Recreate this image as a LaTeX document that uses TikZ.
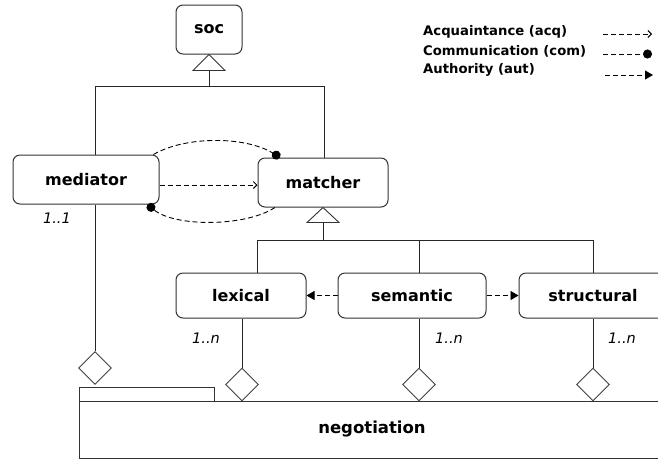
\documentclass[tikz,border=0pt]{standalone}
\usepackage{fontspec}
\setmainfont{DejaVu Sans}
\usetikzlibrary{arrows.meta,shapes.geometric}
\begin{document}
\begin{tikzpicture}[x=1pt,y=-1pt,
  box/.style={draw=black!80,line width=1pt,rounded corners=7pt,inner sep=0pt,
     font=\fontsize{16}{18}\selectfont\bfseries},
  dia/.style={draw=black!75,fill=white,line width=0.9pt,shape=diamond,minimum width=33pt,minimum height=33pt,inner sep=0pt},
  mult/.style={font=\fontsize{14.5}{16}\selectfont\itshape},
  leg/.style={anchor=west,inner sep=0pt,font=\fontsize{13.2}{15}\selectfont\bfseries},
  link/.style={line width=0.9pt,black!85},
  dsh/.style={line width=0.9pt,dash pattern=on 5pt off 3pt},
  acq/.style={dsh,-{Straight Barb[length=3.5pt,width=7pt]}},
  com/.style={dsh,-{Circle[length=9pt]}},
  aut/.style={dsh,-{Triangle[length=8pt,width=9pt]}},
  gen/.style={draw=black!80,fill=white,line width=0.9pt}
]
\useasboundingbox (0,0) rectangle (658,459);
\clip (0,0) rectangle (658,459);
\fill[white] (0,0) rectangle (658,459);

% nodes
\node[box,minimum width=66pt,minimum height=49pt] (soc) at (209,29.5) {soc};
\node[box,minimum width=146pt,minimum height=49pt] (mediator) at (86,179.5) {mediator};
\node[box,minimum width=130pt,minimum height=49pt] (matcher) at (323,182.5) {matcher};
\node[box,minimum width=130pt,minimum height=45pt] (lexical) at (241,295.5) {lexical};
\node[box,minimum width=148pt,minimum height=45pt] (semantic) at (412,295.5) {semantic};
\node[box,minimum width=148pt,minimum height=45pt] (structural) at (593,295.5) {structural};

% negotiation
\draw[line width=1pt,black!80] (79,387) rectangle (214,401);
\node[draw=black!80,line width=1pt,minimum width=586pt,minimum height=57pt,inner sep=0pt,
  font=\fontsize{16.5}{18}\selectfont\bfseries] (neg) at (372,429.5) {negotiation};

% generalization to soc
\coordinate (socT) at (209,70);
\draw[link] (socT) -- ++(0,16) -| ([xshift=9pt]mediator.north);
\draw[link] (socT) -- ++(0,16) -| ([xshift=1pt]matcher.north);
\draw[gen] (soc.south) -- ++(-16,16) -- ++(32,0) -- cycle;

% generalization to matcher
\coordinate (matT) at (323,222);
\draw[link] (matT) -- ++(0,18) -| ([xshift=16pt]lexical.north);
\draw[link] (matT) -- ++(0,18) -| ([xshift=7pt]semantic.north);
\draw[link] (matT) -- ++(0,18) -| (structural.north);
\draw[gen] (matcher.south) -- ++(-16,15) -- ++(32,0) -- cycle;

% aggregation diamonds
\node[dia] (dm) at (95,368) {};
\node[dia] (dl) at (242,384.5) {};
\node[dia] (ds) at (419,384.5) {};
\node[dia] (dt) at (593,384.5) {};
\draw[link] (mediator.south -| dm) -- (dm.north);
\draw[link] (lexical.south -| dl) -- (dl.north);
\draw[link] (semantic.south -| ds) -- (ds.north);
\draw[link] (structural.south -| dt) -- (dt.north);

% multiplicities
\node[mult] at (57,218) {1..1};
\node[mult] at (206,338) {1..n};
\node[mult] at (449,338) {1..n};
\node[mult] at (622,338) {1..n};

% mediator - matcher relations
\draw[acq] (mediator.east |- 0,185) -- (matcher.west |- 0,185);
\draw[com] ([xshift=-6pt]mediator.north east) .. controls (185,136) and (245,136) .. ([xshift=-43pt]matcher.north);
\draw[com] ([xshift=-48pt]matcher.south) .. controls (245,227) and (175,227) .. ([xshift=-12pt]mediator.south east);

% authority relations
\draw[aut] (semantic.west) -- (lexical.east);
\draw[aut] (semantic.east) -- (structural.west);

% legend
\node[leg] (l1) at (423,32) {Acquaintance (acq)};
\node[leg] (l2) at (423,51) {Communication (com)};
\node[leg] (l3) at (423,70) {Authority (aut)};
\coordinate (a1) at (603,34); \coordinate (b1) at (652,34);
\coordinate (a2) at (603,54); \coordinate (b2) at (652,54);
\coordinate (a3) at (605,75); \coordinate (b3) at (653,75);
\draw[acq] (a1) -- (b1);
\draw[com] (a2) -- (b2);
\draw[aut] (a3) -- (b3);
\end{tikzpicture}
\end{document}
